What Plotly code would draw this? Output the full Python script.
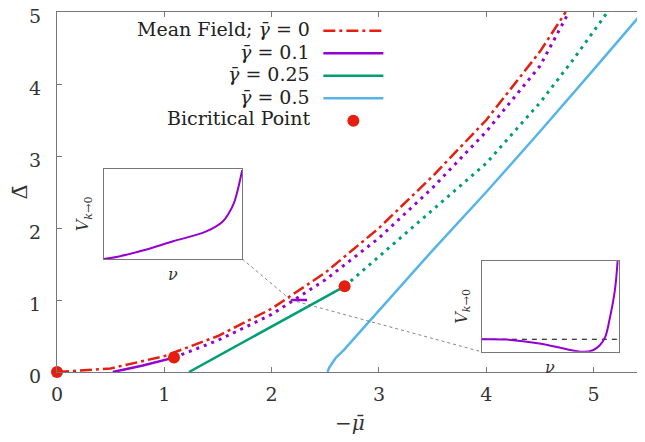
import plotly.graph_objects as go

# ---------------- data ----------------
mf_x = [0, 0.5, 1.0, 1.5, 2.0, 2.5, 3.0, 3.5, 4.0, 4.5, 4.74]
mf_y = [0, 0.05, 0.22, 0.50, 0.88, 1.38, 2.0, 2.72, 3.5, 4.45, 5.0]

g01_solid_x = [0.52, 0.8, 1.09]
g01_solid_y = [0.0, 0.09, 0.20]
g01_dot_x = [1.09, 1.5, 2.0, 2.5, 3.0, 3.5, 4.0, 4.5, 4.77]
g01_dot_y = [0.20, 0.44, 0.80, 1.28, 1.86, 2.56, 3.34, 4.25, 5.0]
g01_jump_x = [2.18, 2.33]
g01_jump_y = [1.0, 1.0]

g025_solid_x = [1.23, 1.96, 2.68]
g025_solid_y = [0.0, 0.60, 1.19]
g025_dot_x = [2.68, 3.0, 3.5, 4.0, 4.5, 4.8, 5.13]
g025_dot_y = [1.19, 1.60, 2.25, 2.90, 3.74, 4.32, 5.0]

g05_x = [2.52, 2.54, 2.6, 2.67, 2.8, 2.92, 3.08, 3.5, 4.0, 4.5, 5.0, 5.46]
g05_y = [0.0, 0.07, 0.2, 0.3, 0.52, 0.72, 1.0, 1.69, 2.5, 3.34, 4.2, 5.0]

bic_x = [0, 1.09, 2.68, 5.46]
bic_y = [0, 0.20, 1.19, 5.0]

inset1_x = [0, 0.1, 0.26, 0.5, 0.74, 0.86, 0.9, 0.94, 0.97, 1.0]
inset1_y = [0, 0.025, 0.085, 0.196, 0.306, 0.417, 0.5, 0.62, 0.78, 0.985]

inset2_x = [0, 0.18, 0.42, 0.62, 0.74, 0.81, 0.86, 0.90, 0.93, 0.97, 0.99]
inset2_y = [0.139, 0.135, 0.092, 0.029, 0.0, 0.018, 0.073, 0.165, 0.348, 0.678, 1.0]
inset2_ref = [0.139, 0.139]

legend_labels = ["Mean Field; <i>γ̄</i> = 0", "<i>γ̄</i> = 0.1", "<i>γ̄</i> = 0.25",
                 "<i>γ̄</i> = 0.5", "Bicritical Point"]
x_ticks = [0, 1, 2, 3, 4, 5]
y_ticks = [0, 1, 2, 3, 4, 5]

# ---------------- style ----------------
RED = "#e51e10"
PURPLE = "#9400d3"
GREEN = "#009e73"
BLUE = "#56b4e9"
FONT = "DejaVu Serif"
XMAX, YMAX = 5.46, 5.0
INSET1_X = [0.080, 0.316]
INSET1_Y = [0.314, 0.564]
INSET2_X = [0.725, 0.959]
INSET2_Y = [0.056, 0.308]
DOTS = "3px,5px"
PLOT_W, PLOT_H = 586, 360   # plot-area size in px (for placing text in paper units)

fig = go.Figure()

fig.add_trace(go.Scatter(x=mf_x, y=mf_y, mode="lines", name=" ",
                         line=dict(color=RED, width=2.5, dash="12px,4px,3px,4px"),
                         legendrank=1))
fig.add_trace(go.Scatter(x=g01_dot_x, y=g01_dot_y, mode="lines", showlegend=False,
                         line=dict(color=PURPLE, width=3, dash=DOTS)))
fig.add_trace(go.Scatter(x=g01_solid_x, y=g01_solid_y, mode="lines", name=" ",
                         line=dict(color=PURPLE, width=2.5), legendrank=2))
fig.add_trace(go.Scatter(x=g01_jump_x, y=g01_jump_y, mode="lines", showlegend=False,
                         line=dict(color=PURPLE, width=2.5)))
fig.add_trace(go.Scatter(x=g025_dot_x, y=g025_dot_y, mode="lines", showlegend=False,
                         line=dict(color=GREEN, width=3, dash=DOTS)))
fig.add_trace(go.Scatter(x=g025_solid_x, y=g025_solid_y, mode="lines", name=" ",
                         line=dict(color=GREEN, width=2.5), legendrank=3))
fig.add_trace(go.Scatter(x=g05_x, y=g05_y, mode="lines", name=" ",
                         line=dict(color=BLUE, width=2.5), legendrank=4))
fig.add_trace(go.Scatter(x=bic_x, y=bic_y, mode="markers", name=" ",
                         marker=dict(color=RED, size=12), cliponaxis=False, legendrank=5))

# insets
fig.add_trace(go.Scatter(x=inset1_x, y=inset1_y, mode="lines", showlegend=False,
                         line=dict(color=PURPLE, width=2, shape="spline"),
                         xaxis="x2", yaxis="y2"))
fig.add_trace(go.Scatter(x=[0, 1], y=inset2_ref, mode="lines", showlegend=False,
                         line=dict(color="black", width=1.2, dash="5px,5px"),
                         xaxis="x3", yaxis="y3"))
fig.add_trace(go.Scatter(x=inset2_x, y=inset2_y, mode="lines", showlegend=False,
                         line=dict(color=PURPLE, width=2, shape="spline"),
                         xaxis="x3", yaxis="y3"))

axis_common = dict(showgrid=False, zeroline=False, showline=True, linecolor="#777",
                   linewidth=1, mirror="allticks", ticks="inside", ticklen=5,
                   tickcolor="#777", ticklabeloverflow="allow", automargin=False,
                   tickfont=dict(family=FONT, size=19, color="#333"))

inset_common = dict(showgrid=False, zeroline=False, showline=True, linecolor="#777",
                    linewidth=1, mirror=True, ticks="", showticklabels=False,
                    automargin=False)

fig.update_layout(
    width=637, height=426,
    margin=dict(l=49, r=2, t=4, b=62),
    paper_bgcolor="white", plot_bgcolor="white",
    font=dict(family=FONT, color="#333"),
    xaxis=dict(range=[0, XMAX], tickvals=x_ticks, domain=[0, 1],
               ticklabelstandoff=5, **axis_common),
    yaxis=dict(range=[0, YMAX], tickvals=y_ticks, domain=[0, 1],
               title=dict(text="Δ̄", font=dict(family=FONT, size=21, color="#333"),
                          standoff=6),
               ticklabelstandoff=11, ticklabelshift=4, **axis_common),
    xaxis2=dict(domain=INSET1_X, range=[0, 1], anchor="y2", **inset_common),
    yaxis2=dict(domain=INSET1_Y, range=[0, 1], anchor="x2", **inset_common),
    xaxis3=dict(domain=INSET2_X, range=[0, 1], anchor="y3", **inset_common),
    yaxis3=dict(domain=INSET2_Y, range=[0, 1], anchor="x3", **inset_common),
    legend=dict(x=0.446, y=0.993, xanchor="left", yanchor="top",
                bgcolor="rgba(0,0,0,0)", itemwidth=60,
                font=dict(family=FONT, size=15), tracegroupgap=0),
    showlegend=True,
)

# x-axis title
fig.add_annotation(text="−<i>μ̄</i>", xref="paper", yref="paper",
                   x=0.5, y=(372 - 423) / PLOT_H,
                   xanchor="center", yanchor="middle", showarrow=False,
                   font=dict(family=FONT, size=20, color="#333"))

# legend text (right aligned, left of the samples)
row_y = [29, 52, 74, 97, 118]
for lbl, py in zip(legend_labels, row_y):
    fig.add_annotation(text=lbl, xref="paper", yref="paper",
                       x=(311 - 57) / PLOT_W, y=(372 - py) / PLOT_H,
                       xanchor="right", yanchor="middle", showarrow=False,
                       height=22, borderpad=0,
                       font=dict(family=FONT, size=19, color="#222"))

# inset labels
def inset_labels(xd, yd):
    fig.add_annotation(text="<i>V</i><sub><i>k</i>→0</sub>", xref="paper", yref="paper",
                       x=xd[0] - 0.012, y=(yd[0] + yd[1]) / 2, textangle=-90,
                       xanchor="right", yanchor="middle", showarrow=False,
                       font=dict(family=FONT, size=16, color="#333"))
    fig.add_annotation(text="<i>ν</i>", xref="paper", yref="paper",
                       x=(xd[0] + xd[1]) / 2, y=yd[0] - 0.012,
                       xanchor="center", yanchor="top", showarrow=False,
                       font=dict(family=FONT, size=16, color="#333"))

inset_labels(INSET1_X, INSET1_Y)
inset_labels(INSET2_X, INSET2_Y)

# connector lines from the first-order jump to the insets
jx, jy = g01_jump_x[0], g01_jump_y[0]
fig.add_shape(type="line", xref="x", yref="y",
              x0=INSET1_X[1] * XMAX, y0=INSET1_Y[0] * YMAX, x1=jx, y1=jy,
              line=dict(color="#666", width=0.8, dash="dot"))
fig.add_shape(type="line", xref="x", yref="y",
              x0=jx, y0=jy, x1=INSET2_X[0] * XMAX, y1=INSET2_Y[0] * YMAX,
              line=dict(color="#666", width=0.8, dash="dot"))

fig.write_html("out.html")
